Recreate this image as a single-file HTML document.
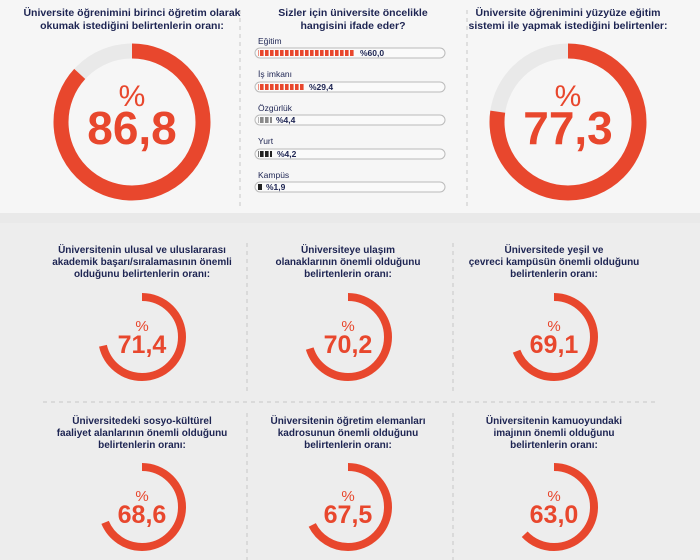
<!DOCTYPE html>
<html><head><meta charset="utf-8"><style>
html,body{margin:0;padding:0;width:700px;height:560px;overflow:hidden;background:#f3f3f3}
svg{display:block}
.t{font-family:"Liberation Sans",sans-serif;font-weight:bold;fill:#1d2452;text-anchor:middle}
.n{font-family:"Liberation Sans",sans-serif;font-weight:bold;fill:#e8472d;text-anchor:middle}
.p{font-family:"Liberation Sans",sans-serif;fill:#e8472d;text-anchor:middle}
.l{font-family:"Liberation Sans",sans-serif;fill:#1d2452;font-size:8.5px}
</style></head><body>
<svg width="700" height="560" xmlns="http://www.w3.org/2000/svg">
<defs>
<pattern id="seg" width="5" height="10" patternUnits="userSpaceOnUse"><rect width="3.6" height="10" fill="#e8472d"/></pattern>
<pattern id="segg" width="5" height="10" patternUnits="userSpaceOnUse"><rect width="3.6" height="10" fill="#8a8a8a"/></pattern>
<pattern id="segk" width="5" height="10" patternUnits="userSpaceOnUse"><rect width="3.6" height="10" fill="#222"/></pattern>
</defs>
<rect width="700" height="213" fill="#f6f6f6"/>
<rect y="213" width="700" height="10" fill="#e9e9e9"/>
<rect y="223" width="700" height="337" fill="#ededed"/>
<g stroke="#c8c8c8" stroke-width="1" stroke-dasharray="4,4">
<line x1="240" y1="10" x2="240" y2="208"/><line x1="467" y1="10" x2="467" y2="208"/>
<line x1="247" y1="243" x2="247" y2="392"/><line x1="453" y1="243" x2="453" y2="392"/>
<line x1="247" y1="413" x2="247" y2="560"/><line x1="453" y1="413" x2="453" y2="560"/>
<line x1="43" y1="402" x2="658" y2="402"/>
</g>
<!-- top left -->
<text class="t" font-size="10.5" x="132" y="16">Üniversite öğrenimini birinci öğretim olarak</text>
<text class="t" font-size="10.5" x="132" y="29">okumak istediğini belirtenlerin oranı:</text>
<circle cx="132" cy="122" r="71" fill="none" stroke="#e9e9e9" stroke-width="15"/>
<circle cx="132" cy="122" r="71" fill="none" stroke="#e8472d" stroke-width="15" stroke-dasharray="387.2 500" transform="rotate(-90 132 122)"/>
<text class="p" font-size="30" x="132" y="106">%</text>
<text class="n" font-size="46" x="132" y="144">86,8</text>
<!-- top right -->
<text class="t" font-size="10.5" x="568" y="16">Üniversite öğrenimini yüzyüze eğitim</text>
<text class="t" font-size="10.5" x="568" y="29">sistemi ile yapmak istediğini belirtenler:</text>
<circle cx="568" cy="122" r="71" fill="none" stroke="#e9e9e9" stroke-width="15"/>
<circle cx="568" cy="122" r="71" fill="none" stroke="#e8472d" stroke-width="15" stroke-dasharray="344.8 500" transform="rotate(-90 568 122)"/>
<text class="p" font-size="30" x="568" y="106">%</text>
<text class="n" font-size="46" x="568" y="144">77,3</text>
<!-- middle bars -->
<text class="t" font-size="10.5" x="353" y="16">Sizler için üniversite öncelikle</text>
<text class="t" font-size="10.5" x="353" y="29">hangisini ifade eder?</text>
<g>
<text class="l" x="258" y="44">Eğitim</text>
<rect x="255" y="48" width="190" height="10" rx="5" fill="#fafafa" stroke="#bbb"/>
<rect x="258" y="50" width="97" height="6" fill="url(#seg)"/>
<text class="l" font-weight="bold" font-size="7.5" x="360" y="56">%60,0</text>
<text class="l" x="258" y="77">İş imkanı</text>
<rect x="255" y="82" width="190" height="10" rx="5" fill="#fafafa" stroke="#bbb"/>
<rect x="258" y="84" width="47" height="6" fill="url(#seg)"/>
<text class="l" font-weight="bold" font-size="7.5" x="309" y="90">%29,4</text>
<text class="l" x="258" y="111">Özgürlük</text>
<rect x="255" y="115" width="190" height="10" rx="5" fill="#fafafa" stroke="#bbb"/>
<rect x="258" y="117" width="14" height="6" fill="url(#segg)"/>
<text class="l" font-weight="bold" font-size="7.5" x="276" y="123">%4,4</text>
<text class="l" x="258" y="144">Yurt</text>
<rect x="255" y="149" width="190" height="10" rx="5" fill="#fafafa" stroke="#bbb"/>
<rect x="258" y="151" width="14" height="6" fill="url(#segk)"/>
<text class="l" font-weight="bold" font-size="7.5" x="277" y="157">%4,2</text>
<text class="l" x="258" y="178">Kampüs</text>
<rect x="255" y="182" width="190" height="10" rx="5" fill="#fafafa" stroke="#bbb"/>
<rect x="258" y="184" width="4" height="6" fill="#222"/>
<text class="l" font-weight="bold" font-size="7.5" x="266" y="190">%1,9</text>
</g>
<!-- small rings -->
<g id="s">
<text class="t" font-size="10" x="142" y="253">Üniversitenin ulusal ve uluslararası</text>
<text class="t" font-size="10" x="142" y="265">akademik başarı/sıralamasının önemli</text>
<text class="t" font-size="10" x="142" y="277">olduğunu belirtenlerin oranı:</text>
<circle cx="142" cy="337" r="40" fill="none" stroke="#e8472d" stroke-width="8" stroke-dasharray="179.4 300" transform="rotate(-90 142 337)"/>
<text class="p" font-size="15" x="142" y="331">%</text>
<text class="n" font-size="25" x="142" y="353">71,4</text>

<text class="t" font-size="10" x="348" y="253">Üniversiteye ulaşım</text>
<text class="t" font-size="10" x="348" y="265">olanaklarının önemli olduğunu</text>
<text class="t" font-size="10" x="348" y="277">belirtenlerin oranı:</text>
<circle cx="348" cy="337" r="40" fill="none" stroke="#e8472d" stroke-width="8" stroke-dasharray="176.4 300" transform="rotate(-90 348 337)"/>
<text class="p" font-size="15" x="348" y="331">%</text>
<text class="n" font-size="25" x="348" y="353">70,2</text>

<text class="t" font-size="10" x="554" y="253">Üniversitede yeşil ve</text>
<text class="t" font-size="10" x="554" y="265">çevreci kampüsün önemli olduğunu</text>
<text class="t" font-size="10" x="554" y="277">belirtenlerin oranı:</text>
<circle cx="554" cy="337" r="40" fill="none" stroke="#e8472d" stroke-width="8" stroke-dasharray="173.7 300" transform="rotate(-90 554 337)"/>
<text class="p" font-size="15" x="554" y="331">%</text>
<text class="n" font-size="25" x="554" y="353">69,1</text>

<text class="t" font-size="10" x="142" y="424">Üniversitedeki sosyo-kültürel</text>
<text class="t" font-size="10" x="142" y="436">faaliyet alanlarının önemli olduğunu</text>
<text class="t" font-size="10" x="142" y="448">belirtenlerin oranı:</text>
<circle cx="142" cy="507" r="40" fill="none" stroke="#e8472d" stroke-width="8" stroke-dasharray="172.4 300" transform="rotate(-90 142 507)"/>
<text class="p" font-size="15" x="142" y="501">%</text>
<text class="n" font-size="25" x="142" y="523">68,6</text>

<text class="t" font-size="10" x="348" y="424">Üniversitenin öğretim elemanları</text>
<text class="t" font-size="10" x="348" y="436">kadrosunun önemli olduğunu</text>
<text class="t" font-size="10" x="348" y="448">belirtenlerin oranı:</text>
<circle cx="348" cy="507" r="40" fill="none" stroke="#e8472d" stroke-width="8" stroke-dasharray="169.6 300" transform="rotate(-90 348 507)"/>
<text class="p" font-size="15" x="348" y="501">%</text>
<text class="n" font-size="25" x="348" y="523">67,5</text>

<text class="t" font-size="10" x="554" y="424">Üniversitenin kamuoyundaki</text>
<text class="t" font-size="10" x="554" y="436">imajının önemli olduğunu</text>
<text class="t" font-size="10" x="554" y="448">belirtenlerin oranı:</text>
<circle cx="554" cy="507" r="40" fill="none" stroke="#e8472d" stroke-width="8" stroke-dasharray="158.3 300" transform="rotate(-90 554 507)"/>
<text class="p" font-size="15" x="554" y="501">%</text>
<text class="n" font-size="25" x="554" y="523">63,0</text>
</g>
</svg>
</body></html>
